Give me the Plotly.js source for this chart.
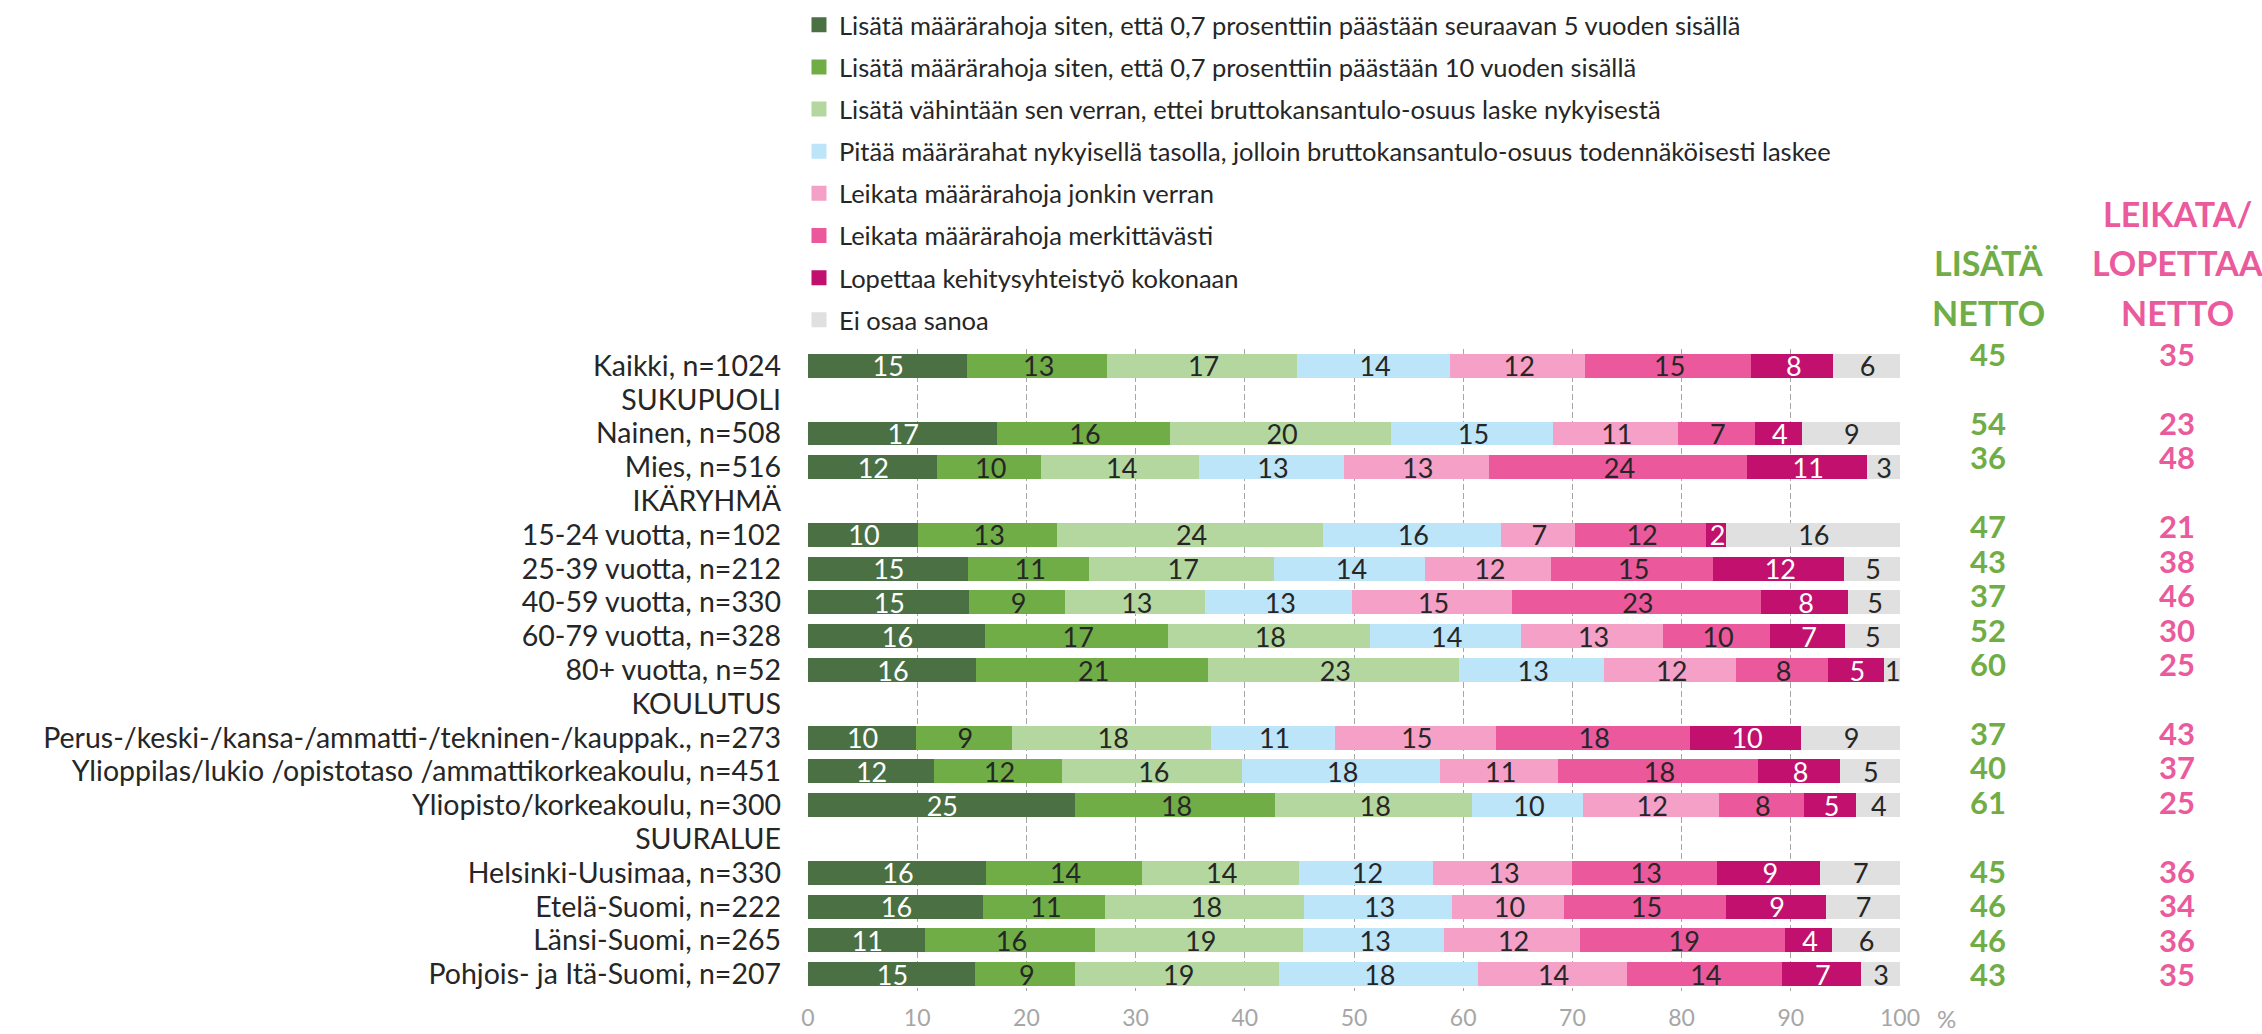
<!DOCTYPE html>
<html>
<head>
<meta charset="utf-8">
<script src="https://cdn.plot.ly/plotly-3.0.1.min.js"></script>
<style>html,body{margin:0;padding:0;background:#fff;}#chart{width:2262px;height:1034px;}</style>
</head>
<body>
<div id="chart"></div>
<script>
// Categories (top to bottom)
const categories = [
  "Kaikki, n=1024", "SUKUPUOLI", "Nainen, n=508", "Mies, n=516", "IKÄRYHMÄ",
  "15-24 vuotta, n=102", "25-39 vuotta, n=212", "40-59 vuotta, n=330", "60-79 vuotta, n=328",
  "80+ vuotta, n=52", "KOULUTUS", "Perus-/keski-/kansa-/ammatti-/tekninen-/kauppak., n=273",
  "Ylioppilas/lukio /opistotaso /ammattikorkeakoulu, n=451", "Yliopisto/korkeakoulu, n=300",
  "SUURALUE", "Helsinki-Uusimaa, n=330", "Etelä-Suomi, n=222", "Länsi-Suomi, n=265",
  "Pohjois- ja Itä-Suomi, n=207"
];

// Series names
const seriesNames = [
  "Lisätä määrärahoja siten, että 0,7 prosenttiin päästään seuraavan 5 vuoden sisällä",
  "Lisätä määrärahoja siten, että 0,7 prosenttiin päästään 10 vuoden sisällä",
  "Lisätä vähintään sen verran, ettei bruttokansantulo-osuus laske nykyisestä",
  "Pitää määrärahat nykyisellä tasolla, jolloin bruttokansantulo-osuus todennäköisesti laskee",
  "Leikata määrärahoja jonkin verran",
  "Leikata määrärahoja merkittävästi",
  "Lopettaa kehitysyhteistyö kokonaan",
  "Ei osaa sanoa"
];

// Series values (%), null = section header row
const lisata5v = [14.7, null, 17.43, 11.96, null, 10.25, 14.8, 14.89, 16.38, 15.55, null, 9.99, 11.65, 24.6, null, 16.47, 16.2, 10.86, 15.46];
const lisata10v = [12.85, null, 15.86, 9.54, null, 12.7, 11.09, 8.81, 16.73, 21.24, null, 8.84, 11.78, 18.3, null, 14.23, 11.18, 15.55, 9.14];
const lisataVah = [17.35, null, 20.24, 14.46, null, 24.35, 16.95, 12.83, 18.45, 23.0, null, 18.23, 16.47, 18.07, null, 14.37, 18.22, 19.09, 18.68];
const pitaa = [14.06, null, 14.83, 13.23, null, 16.26, 13.84, 13.45, 13.87, 13.23, null, 11.34, 18.14, 10.1, null, 12.31, 13.49, 12.89, 18.17];
const leikataJonkin = [12.33, null, 11.42, 13.31, null, 6.84, 11.52, 14.62, 13.02, 12.14, null, 14.7, 10.8, 12.49, null, 12.71, 10.29, 12.45, 13.66];
const leikataMerk = [15.24, null, 7.06, 23.63, null, 11.96, 14.84, 22.78, 9.78, 8.35, null, 17.79, 18.27, 7.77, null, 13.33, 14.8, 18.8, 14.22];
const lopettaa = [7.51, null, 4.32, 10.94, null, 1.86, 12.0, 8.04, 6.89, 5.16, null, 10.22, 7.56, 4.8, null, 9.42, 9.15, 4.27, 7.2];
const eiOsaa = [5.96, null, 8.84, 2.93, null, 15.78, 4.98, 4.58, 4.8, 1.33, null, 8.89, 5.33, 3.87, null, 7.16, 6.67, 6.04, 3.47];

// Net columns
const lisataNetto = [45, null, 54, 36, null, 47, 43, 37, 52, 60, null, 37, 40, 61, null, 45, 46, 46, 43];
const leikataNetto = [35, null, 23, 48, null, 21, 38, 46, 30, 25, null, 43, 37, 25, null, 36, 34, 36, 35];
const nettoCols = ["LISÄTÄ NETTO", "LEIKATA/LOPETTAA NETTO"];

// Tick labels
const xTicks = [0, 10, 20, 30, 40, 50, 60, 70, 80, 90, 100];

// Styles
const colors = ["#4a7043", "#70ad47", "#b4d7a0", "#bce5fa", "#f4a0c7", "#eb599c", "#c1106d", "#e0e0e0"];
const textColors = ["#ffffff", "#262626", "#262626", "#262626", "#262626", "#262626", "#ffffff", "#262626"];
const seriesValues = [lisata5v, lisata10v, lisataVah, pitaa, leikataJonkin, leikataMerk, lopettaa, eiOsaa];
const FONT = "Lato, 'Open Sans', sans-serif";
const GREEN = "#70ad47", PINK = "#ea5a9c";

const traces = seriesValues.map((vals, i) => ({
  type: "bar",
  orientation: "h",
  name: seriesNames[i],
  legendgroup: "g" + i,
  x: vals,
  y: categories,
  xaxis: "x", yaxis: "y",
  marker: {color: colors[i], line: {width: 3, color: colors[i]}},
  texttemplate: "%{x:.0f}",
  textposition: "inside",
  insidetextanchor: "middle",
  textangle: 0,
  textfont: {family: FONT, size: 27, color: textColors[i]},
  hoverinfo: "x+y+name"
}));

traces.push({
  type: "scatter", mode: "text", showlegend: false,
  x: categories.map(() => nettoCols[0]), y: categories,
  text: lisataNetto.map(v => v == null ? "" : String(v)),
  textfont: {family: FONT, size: 31, color: GREEN, weight: 700},
  xaxis: "x2", yaxis: "y2", cliponaxis: false, hoverinfo: "skip"
});
traces.push({
  type: "scatter", mode: "text", showlegend: false,
  x: categories.map(() => nettoCols[1]), y: categories,
  text: leikataNetto.map(v => v == null ? "" : String(v)),
  textfont: {family: FONT, size: 31, color: PINK, weight: 700},
  xaxis: "x2", yaxis: "y2", cliponaxis: false, hoverinfo: "skip"
});

const hdrFont = (c) => ({family: FONT, size: 34, color: c, weight: 700});
const annotations = [
  {xref: "x2", yref: "paper", x: nettoCols[0], y: 1.1355, text: "LISÄTÄ", showarrow: false, font: hdrFont(GREEN), yanchor: "middle"},
  {xref: "x2", yref: "paper", x: nettoCols[0], y: 1.0576, text: "NETTO", showarrow: false, font: hdrFont(GREEN), yanchor: "middle"},
  {xref: "x2", yref: "paper", x: nettoCols[1], y: 1.2118, text: "LEIKATA/", showarrow: false, font: hdrFont(PINK), yanchor: "middle"},
  {xref: "x2", yref: "paper", x: nettoCols[1], y: 1.1355, text: "LOPETTAA", showarrow: false, font: hdrFont(PINK), yanchor: "middle"},
  {xref: "x2", yref: "paper", x: nettoCols[1], y: 1.0576, text: "NETTO", showarrow: false, font: hdrFont(PINK), yanchor: "middle"},
  {xref: "paper", yref: "paper", x: 0.79, y: -0.043, text: "%", showarrow: false, font: {family: FONT, size: 24, color: "#a6a6a6"}, yanchor: "middle", borderpad: 0}
];

const layout = {
  width: 2262, height: 1034,
  margin: {l: 808, r: 0, t: 349, b: 43, pad: 0},
  paper_bgcolor: "#ffffff", plot_bgcolor: "#ffffff",
  barmode: "stack", bargap: 0.38,
  showlegend: true,
  legend: {
    x: -0.0062, y: 1.541, xanchor: "left", yanchor: "top",
    traceorder: "grouped", tracegroupgap: 6,
    font: {family: FONT, size: 25.5, color: "#262626"},
    bgcolor: "rgba(0,0,0,0)", borderwidth: 0
  },
  xaxis: {
    domain: [0, 0.75103], range: [0, 100], tickvals: xTicks,
    showgrid: true, gridcolor: "#a6a6a6", gridwidth: 1, griddash: "6px,3px",
    zeroline: false, showline: false, ticks: "",
    tickfont: {family: FONT, size: 23, color: "#a6a6a6"}, ticklabelstandoff: 11,
    fixedrange: true
  },
  yaxis: {
    type: "category", categoryarray: categories, categoryorder: "array",
    tickmode: "array", tickvals: categories, ticktext: categories,
    range: [18.5, -0.5], showgrid: false, zeroline: false, showline: false, ticks: "",
    tickfont: {family: FONT, size: 28.5, color: "#262626"}, ticklabelstandoff: 26,
    fixedrange: true
  },
  xaxis2: {
    domain: [0.7648, 1], anchor: "y2", type: "category", categoryarray: nettoCols,
    range: [-0.36, 1.4497], visible: false, fixedrange: true
  },
  yaxis2: {
    anchor: "x2", overlaying: "y", type: "category", categoryarray: categories, categoryorder: "array",
    range: [18.364, -0.261], visible: false, fixedrange: true
  },
  uniformtext: {mode: "show", minsize: 27},
  annotations: annotations
};

Plotly.newPlot("chart", traces, layout, {displayModeBar: false, staticPlot: true});
</script>
</body>
</html>
